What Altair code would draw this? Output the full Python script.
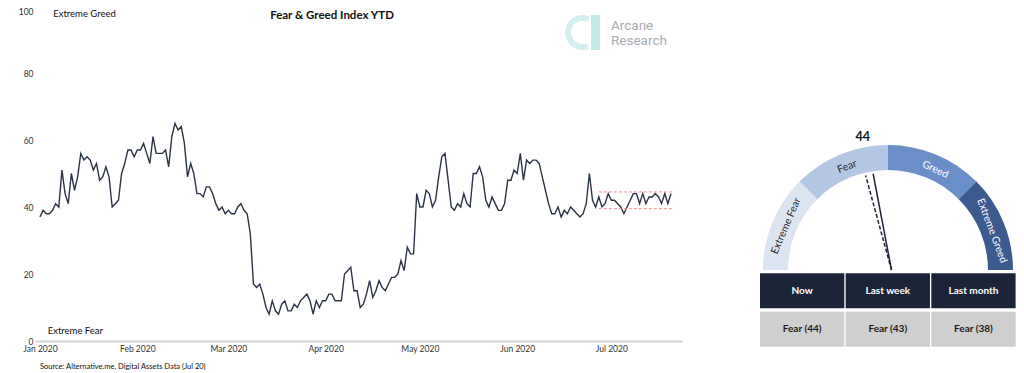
import altair as alt
import pandas as pd

# ---------------- data ----------------
fg_values = [
    37, 39, 38, 38, 39, 41, 40, 51, 44, 41,
    50, 45, 49, 56, 54, 55, 54, 51, 53, 48,
    49, 52, 49, 40, 41, 42, 50, 53, 57, 57,
    55, 57, 57, 59, 56, 53, 61, 56, 56, 56,
    57, 52, 61, 65, 63, 64, 59, 49, 53, 50,
    44, 44, 43, 46, 46, 44, 41, 39, 40, 38,
    39, 38, 38, 40, 41, 39, 38, 32, 17, 16,
    17, 14, 10, 8, 12, 9, 8, 11, 12, 9,
    9, 11, 10, 12, 13, 14, 12, 8, 12, 10,
    12, 12, 14, 14, 12, 12, 12,
    20, 21, 22, 15, 15, 10, 11, 14, 18, 13,
    15, 18, 16, 15, 17, 19, 19, 20, 24, 21,
    28, 26, 26, 44, 40, 40, 45, 44, 40, 42,
    49, 55, 56, 48, 40, 39, 41, 40, 44, 41,
    40, 50, 50, 52, 49, 42, 40, 43, 41, 39,
    39, 41, 48, 48, 51, 50, 56, 48, 54, 53,
    54, 54, 53, 49, 45, 41, 38, 38, 40, 37,
    39, 38, 40, 39, 38, 37, 38, 41, 50, 42,
    40, 43, 40, 41, 44, 42, 42, 41, 40, 38,
    40, 42, 44, 44, 41, 44, 41, 43, 43, 44,
    43, 41, 44, 41, 44,
]
start_date = "2020-01-01"

band_dates = ["2020-06-27", "2020-07-21"]
band_levels = [44.5, 39.5]

zone_text = ["Extreme Greed", "Extreme Fear"]
zone_dates = ["2020-01-05T05:00:00", "2020-01-03T11:00:00"]
zone_levels = [97.6, 3.1]

seg_labels = ["Extreme Fear", "Fear", "Greed", "Extreme Greed"]
seg_lo = [0, 25, 50, 75]
seg_hi = [25, 50, 75, 100]
seg_label_at = [13, 38, 64, 88.5]
seg_colors = ["#dde4f1", "#b4c7e5", "#6a8ec8", "#3b5a8d"]

gauge_value = 44
needle_values = [44, 41.5]
needle_kind = ["now", "prior"]

table_cols = ["Now", "Last week", "Last month"]
table_class = ["Fear", "Fear", "Fear"]
table_scores = [44, 43, 38]

title_text = "Fear & Greed Index YTD"
source_text = "Source: Alternative.me, Digital Assets Data (Jul 20)"
logo_lines = ["Arcane", "Research"]

# ---------------- frames ----------------
dates = pd.date_range(start_date, periods=len(fg_values), freq="D")
line_df = pd.DataFrame({"date": dates.strftime("%Y-%m-%d"), "value": fg_values})
band_df = pd.DataFrame({"d0": [band_dates[0]] * 2, "d1": [band_dates[1]] * 2, "lvl": band_levels})
zone_df = pd.DataFrame({"date": zone_dates, "value": zone_levels, "label": zone_text})
seg_df = pd.DataFrame({"zone": seg_labels, "lo": seg_lo, "hi": seg_hi, "v": seg_label_at})
needle_df = pd.DataFrame({"v": needle_values, "kind": needle_kind})
gv_df = pd.DataFrame({"v": [gauge_value]})
table_df = pd.DataFrame({"idx": [0, 1, 2], "head": table_cols, "cls": table_class, "score": table_scores})

# ---------------- line chart ----------------
xs = alt.Scale(
    domain=[alt.DateTime(year=2019, month=12, date=30, hours=10),
            alt.DateTime(year=2020, month=7, date=23, hours=12)],
    range=[0, 647],
)
ys = alt.Scale(domain=[0, 100], range=[323, -12])
month_ticks = [alt.DateTime(year=2020, month=m, date=1) for m in range(1, 8)]

x_axis = alt.Axis(values=month_ticks, format="%b %Y", title=None, grid=False, ticks=False,
                  domainColor="#d3d3d3", domainWidth=2, labelFontSize=8.5, labelColor="#333333",
                  labelPadding=3, labelFlush=False)
y_axis = alt.Axis(values=[0, 20, 40, 60, 80, 100], title=None, grid=False, ticks=False,
                  domain=False, labelFontSize=8.5, labelColor="#333333", labelPadding=2,
                  labelFlush=False,
                  labelOffset={"condition": {"test": "datum.value == 100", "value": 5}, "value": 0})

line = alt.Chart(line_df).mark_line(color="#2a3345", strokeWidth=1.4).encode(
    x=alt.X("date:T", scale=xs, axis=x_axis),
    y=alt.Y("value:Q", scale=ys, axis=y_axis),
)
band = alt.Chart(band_df).mark_rule(color="#f08a8a", strokeWidth=1, strokeDash=[3, 2]).encode(
    x=alt.X("d0:T", scale=xs), x2="d1:T",
    y=alt.Y("lvl:Q", scale=ys),
)
zones = alt.Chart(zone_df).mark_text(align="left", baseline="middle", fontSize=9.5, color="#111111").encode(
    x=alt.X("date:T", scale=xs), y=alt.Y("value:Q", scale=ys), text="label:N"
)
line_group = alt.layer(line, band, zones)

# ---------------- gauge + table ----------------
gx = alt.Scale(domain=[-150, 150], range=[703, 1003])
gy = alt.Scale(domain=[-150, 150], range=[402, 102])

arcs = alt.Chart(seg_df).mark_arc(radius=125, radius2=100).encode(
    x=alt.value(853), y=alt.value(252),
    theta=alt.Theta("lo:Q", scale=alt.Scale(domain=[0, 100], range=[4.712389, 7.853982]), stack=None),
    theta2="hi:Q",
    color=alt.Color("zone:N", scale=alt.Scale(domain=seg_labels, range=seg_colors), legend=None),
)
seg_text = alt.Chart(seg_df).transform_calculate(
    phi="PI*(1-datum.v/100)",
    gx="111*cos(datum.phi)",
    gy="111*sin(datum.phi)",
    ang="(90 - datum.phi*180/PI + 360) % 360",
).mark_text(fontSize=10.3, baseline="middle", align="center").encode(
    x=alt.X("gx:Q", scale=gx, axis=None),
    y=alt.Y("gy:Q", scale=gy, axis=None),
    angle=alt.Angle("ang:Q", scale=None),
    text="zone:N",
    color=alt.condition("datum.v > 50", alt.value("#ffffff"), alt.value("#2a2a2a")),
)
needles = alt.Chart(needle_df).transform_calculate(
    phi="PI*(1-datum.v/100)",
    x0="3.5",
    y0="0",
    x1="3.5 + 98*cos(datum.phi)",
    y1="98*sin(datum.phi)",
).mark_rule(strokeWidth=1.5, color="#1c2336").encode(
    x=alt.X("x0:Q", scale=gx, axis=None), x2="x1:Q",
    y=alt.Y("y0:Q", scale=gy, axis=None), y2="y1:Q",
    strokeDash=alt.StrokeDash("kind:N", scale=alt.Scale(domain=["now", "prior"], range=[[10, 0], [4, 2]]), legend=None),
)
gv_text = alt.Chart(gv_df).transform_calculate(
    phi="PI*(1-datum.v/100)",
    gx="135*cos(datum.phi)",
    gy="135*sin(datum.phi)",
    lbl="format(datum.v, 'd')",
).mark_text(fontSize=12.5, fontWeight="bold", color="#111111", baseline="middle").encode(
    x=alt.X("gx:Q", scale=gx, axis=None), y=alt.Y("gy:Q", scale=gy, axis=None), text="lbl:N"
)
tbl = alt.Chart(table_df).transform_calculate(
    xa="-128 + datum.idx*85.65",
    xb="datum.xa + 84.3",
    xm="datum.xa + 42.15",
    body="datum.cls + ' (' + datum.score + ')'",
    h0="-3.3", h1="-38.3", b0="-41.7", b1="-76.7", hm="-21.2", bm="-59.2",
)
head_rect = tbl.mark_rect(color="#1b2439").encode(
    x=alt.X("xa:Q", scale=gx, axis=None), x2="xb:Q",
    y=alt.Y("h0:Q", scale=gy, axis=None), y2="h1:Q",
)
body_rect = tbl.mark_rect(color="#cfcfcf").encode(
    x=alt.X("xa:Q", scale=gx, axis=None), x2="xb:Q",
    y=alt.Y("b0:Q", scale=gy, axis=None), y2="b1:Q",
)
head_text = tbl.mark_text(color="#ffffff", fontWeight="bold", fontSize=10).encode(
    x=alt.X("xm:Q", scale=gx, axis=None), y=alt.Y("hm:Q", scale=gy, axis=None), text="head:N"
)
body_text = tbl.mark_text(color="#1a1a1a", fontWeight="bold", fontSize=10).encode(
    x=alt.X("xm:Q", scale=gx, axis=None), y=alt.Y("bm:Q", scale=gy, axis=None), text="body:N"
)
gauge_group = alt.layer(arcs, seg_text, needles, gv_text, head_rect, body_rect, head_text, body_text)

# ---------------- decorations ----------------
one = pd.DataFrame({"t": [title_text]})
title = alt.Chart(one).mark_text(fontSize=11.5, fontWeight="bold", color="#111111").encode(
    x=alt.value(297), y=alt.value(-2.5), text="t:N"
)
src = alt.Chart(pd.DataFrame({"t": [source_text]})).mark_text(
    fontSize=7.5, align="left", color="#111111"
).encode(x=alt.value(5), y=alt.value(349), text="t:N")
ring = alt.Chart(one).mark_arc(radius=17.5, radius2=11.5, theta=2.75, theta2=6.7, color="#d3f0ee").encode(
    x=alt.value(547.5), y=alt.value(14.5)
)
stem = alt.Chart(one).mark_rect(color="#c2e9e6").encode(
    x=alt.value(556), x2=alt.value(565), y=alt.value(-3), y2=alt.value(32)
)
logo1 = alt.Chart(pd.DataFrame({"t": [logo_lines[0]]})).mark_text(
    font="Roboto", fontSize=13.5, align="left", color="#a8acb6"
).encode(x=alt.value(576), y=alt.value(7.5), text="t:N")
logo2 = alt.Chart(pd.DataFrame({"t": [logo_lines[1]]})).mark_text(
    font="Roboto", fontSize=13.5, align="left", color="#a8acb6"
).encode(x=alt.value(576), y=alt.value(22.5), text="t:N")
deco = alt.layer(title, src, ring, stem, logo1, logo2)

chart = alt.layer(line_group, gauge_group, deco).resolve_scale(
    x="independent", y="independent"
).properties(
    width=981, height=323,
    autosize=alt.AutoSizeParams(type="none"),
    padding={"left": 27, "top": 10, "right": 0, "bottom": 32},
).configure(font="Lato").configure_view(strokeWidth=0)

chart.save("out.html", embed_options={"renderer": "svg", "actions": False})
